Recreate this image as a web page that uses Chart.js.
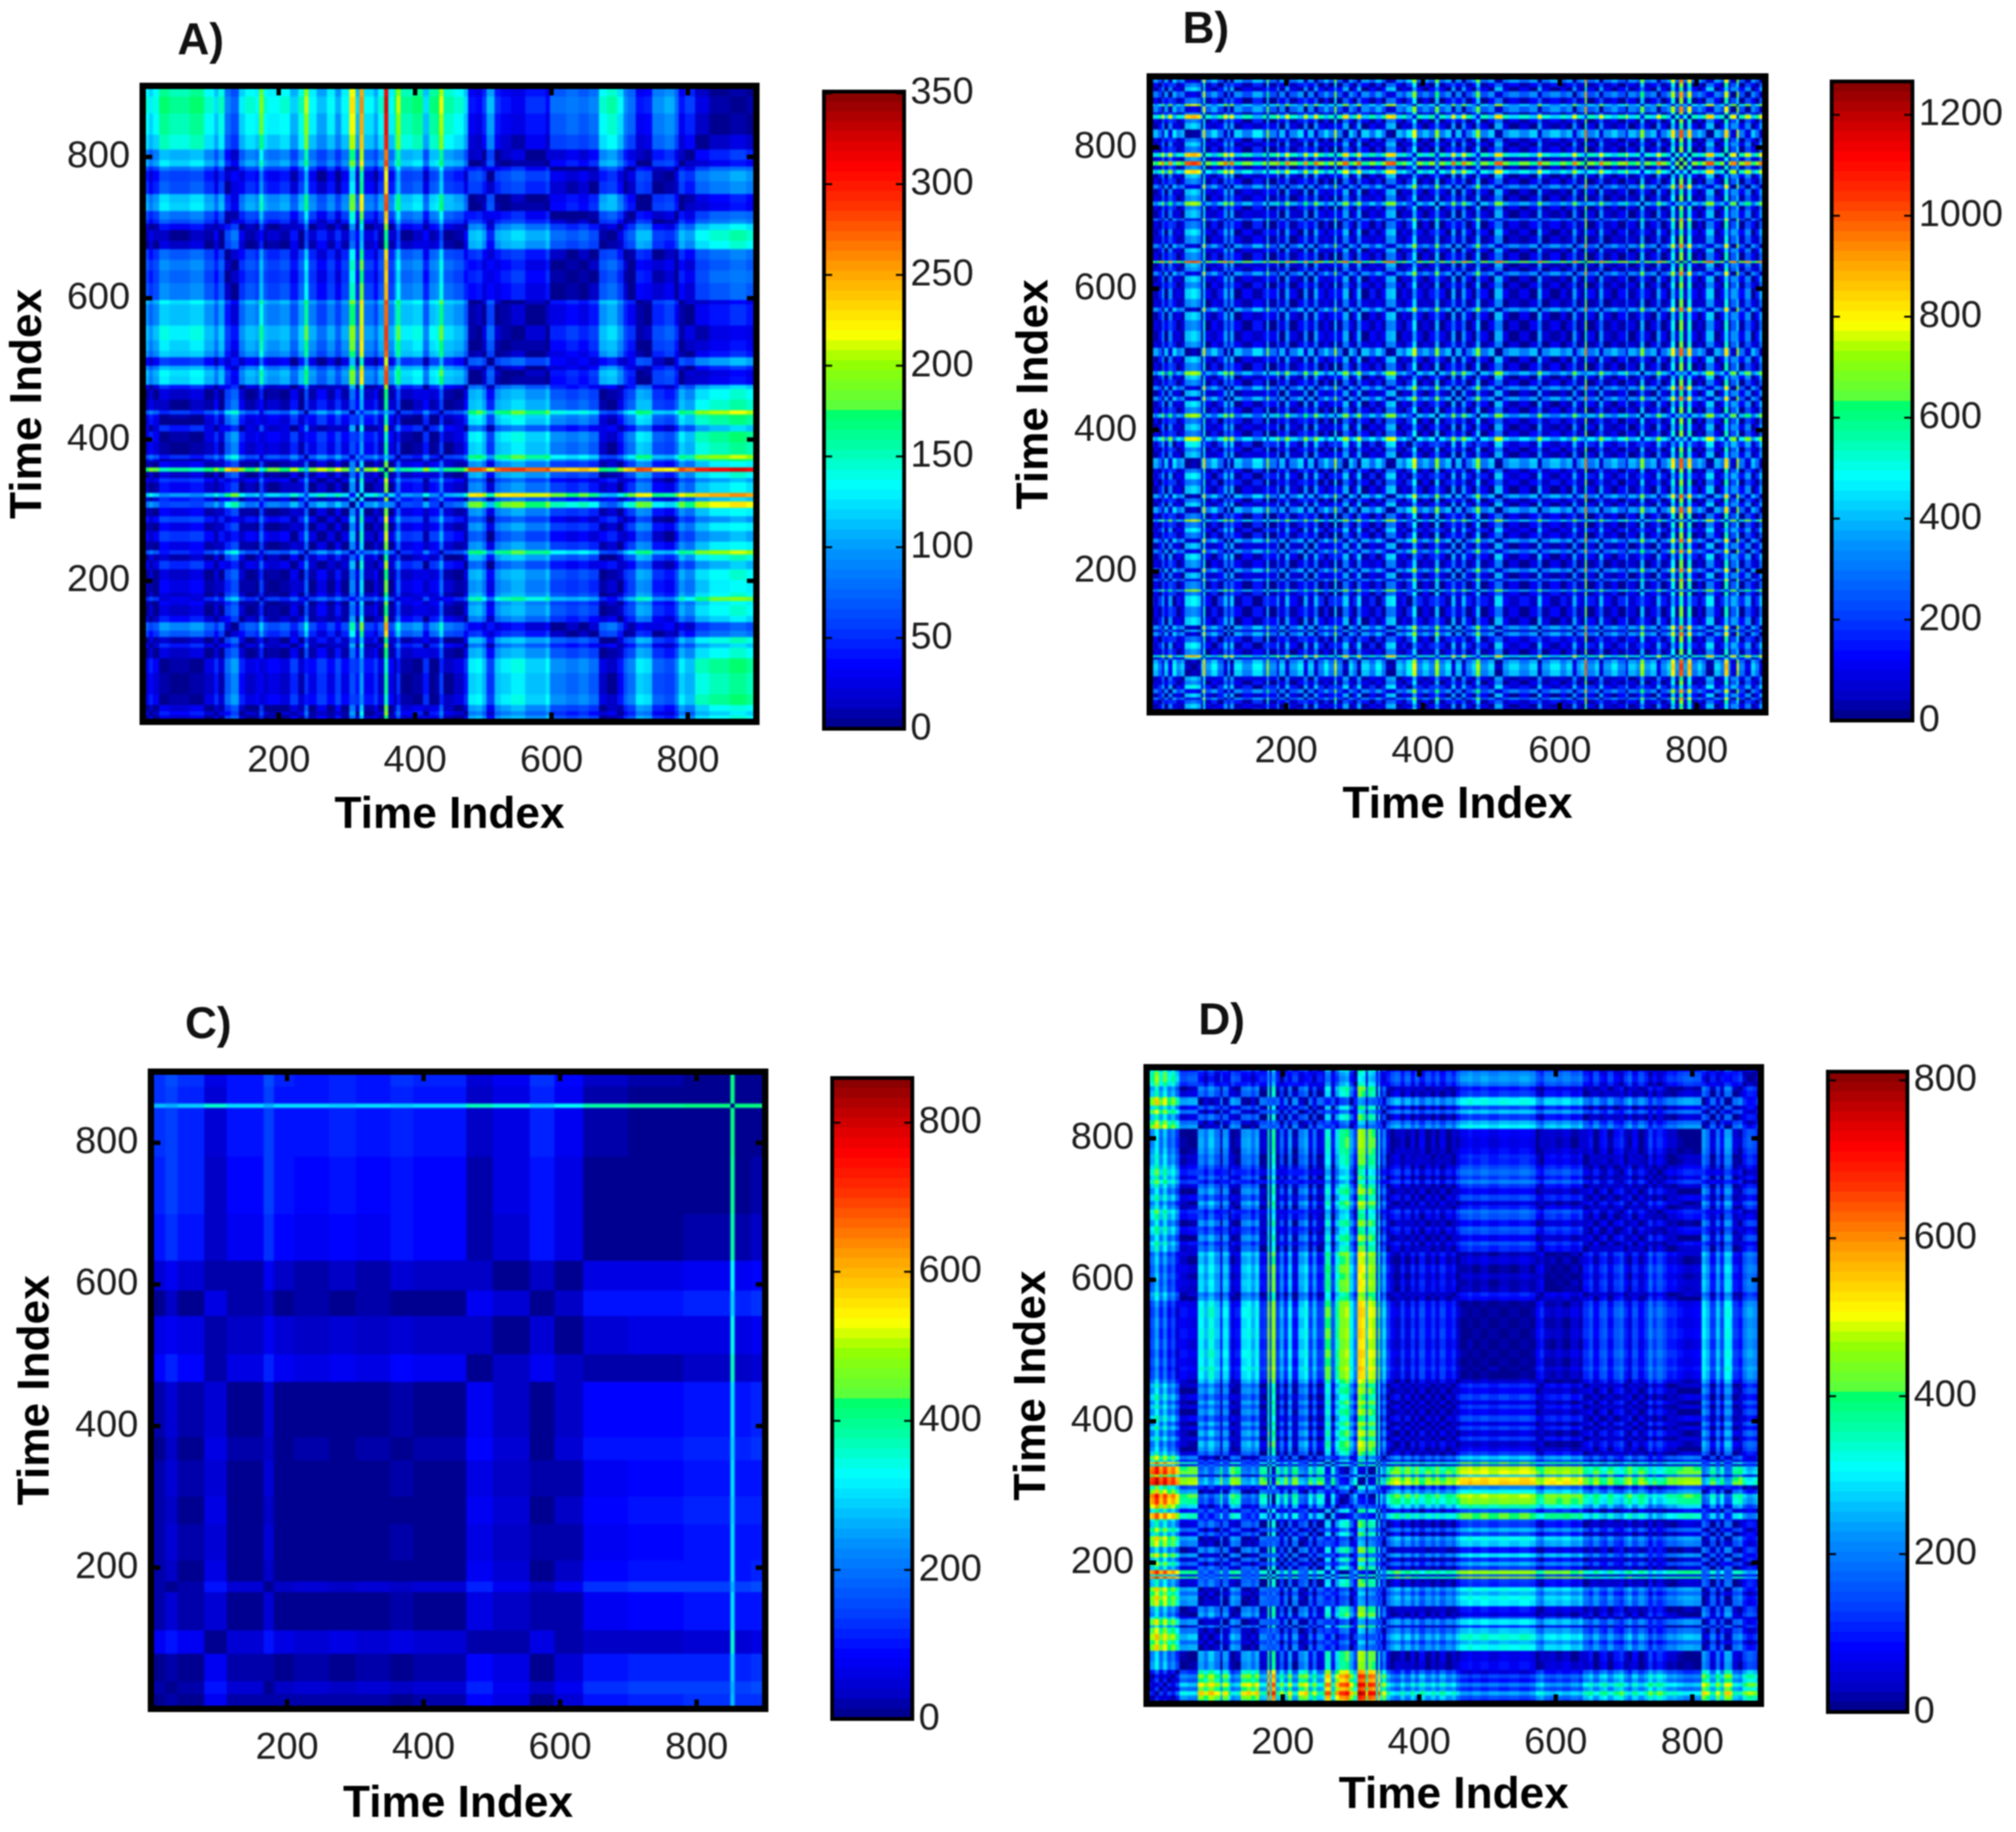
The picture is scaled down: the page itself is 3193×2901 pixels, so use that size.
<!DOCTYPE html>
<html>
<head>
<meta charset="utf-8">
<title>Time Index distance maps</title>
<script src="https://cdn.jsdelivr.net/npm/chart.js@4/dist/chart.umd.js"></script>
<style>
    html, body { margin: 0; background: #fff; }
    #page { position: relative; width: 3193px; height: 2901px; overflow: hidden; background: #fff; }
    canvas { position: absolute; filter: blur(1.2px); }
</style>
</head>
<body>
<div id="page"></div>
<script>
// Each panel is a distance map of one series, so only the series is typed in:
// [first time index of the band, level].
const bandsA = [[1,125],[10,105],[16,120],[25,150],[40,140],[70,150],[90,125],[105,100],[112,130],[120,70],[128,50],[140,105],[150,125],[165,115],[172,170],[178,125],[182,115],[200,125],[215,95],[228,130],[236,190],[242,115],[255,90],[270,115],[282,85],[292,115],[304,205],[311,100],[318,240],[324,110],[340,90],[346,125],[354,300],[361,115],[368,150],[372,190],[377,140],[395,150],[410,100],[420,145],[430,150],[436,195],[441,135],[455,125],[472,100],[478,20],[490,15],[498,35],[505,90],[515,30],[525,20],[540,10],[560,30],[590,15],[597,55],[620,65],[640,55],[655,70],[668,125],[680,135],[695,110],[705,75],[712,60],[722,20],[735,25],[748,75],[765,85],[780,60],[787,20],[795,35],[810,0],[830,-12],[860,-22],[885,-12]];
const bandsB = [[1,80],[6,-30],[12,100],[18,310],[22,-40],[28,290],[33,-90],[40,60],[46,-10],[52,370],[60,410],[70,350],[74,-30],[77,-470],[81,50],[90,-70],[100,100],[108,330],[113,-10],[118,340],[124,-50],[135,70],[150,-80],[165,90],[170,-330],[175,70],[185,300],[190,-20],[197,320],[203,50],[215,-60],[225,300],[232,-20],[240,330],[247,80],[255,-70],[262,80],[270,-380],[274,80],[283,350],[290,-40],[297,80],[303,360],[310,-40],[320,90],[330,-70],[340,80],[346,360],[353,380],[360,-20],[370,70],[376,-90],[384,-400],[389,80],[398,-30],[408,90],[418,-330],[424,70],[432,-50],[440,330],[446,-20],[455,320],[461,70],[470,-40],[476,-340],[482,70],[495,-40],[505,360],[515,50],[525,-30],[540,60],[555,-40],[566,340],[572,40],[585,-50],[600,60],[610,-30],[618,310],[624,50],[630,-20],[635,-600],[640,70],[650,-30],[658,320],[664,40],[675,-50],[685,80],[695,300],[700,-20],[712,70],[718,-330],[724,50],[733,-30],[742,310],[748,70],[757,-40],[762,-440],[768,50],[773,-620],[779,20],[786,-470],[792,80],[800,-30],[806,80],[814,380],[826,-30],[834,80],[840,-470],[845,60],[850,310],[858,-380],[862,80],[870,300],[878,-40],[886,90],[892,330],[897,-20]];
const bandsC = [[1,110],[20,130],[38,105],[78,35],[112,85],[165,130],[180,92],[210,85],[260,95],[300,85],[350,102],[385,88],[462,20],[502,50],[555,100],[590,60],[632,5],[700,-5],[780,-15],[848,390],[854,-15],[880,-22]];
const bandsD = [[1,100],[6,160],[12,250],[18,120],[24,210],[30,100],[36,150],[42,60],[48,-70],[60,-50],[72,-40],[76,-300],[84,-240],[90,-320],[98,-250],[108,-80],[112,-280],[120,-150],[124,-50],[130,-80],[139,-280],[146,-300],[152,-240],[158,-300],[165,-100],[172,-110],[177,-450],[181,-130],[184,-440],[188,-110],[196,-230],[202,-100],[207,-280],[213,-80],[222,-260],[232,-300],[238,-120],[244,-240],[250,-110],[258,-150],[262,-400],[270,-140],[276,-340],[282,-430],[290,-460],[297,-300],[304,-190],[309,-530],[316,-510],[320,-250],[325,-480],[331,-460],[335,-130],[339,-400],[342,-140],[345,-260],[351,-110],[358,-60],[362,-30],[372,-110],[378,-40],[386,-120],[392,-50],[400,-130],[408,-60],[416,-110],[424,-50],[430,-120],[438,-60],[446,-100],[452,-30],[458,10],[470,30],[478,5],[490,25],[500,0],[515,20],[530,5],[545,25],[560,5],[570,-60],[576,-90],[582,-20],[590,-10],[600,-30],[610,-5],[620,-40],[632,-10],[640,-100],[648,-140],[654,-60],[662,-130],[670,-150],[676,-70],[684,-140],[692,-170],[698,-90],[705,-40],[712,-130],[720,-60],[728,-110],[735,-190],[742,-120],[748,-170],[755,-130],[762,-90],[770,-100],[778,-70],[786,-50],[800,-60],[812,-290],[820,-240],[826,-110],[834,-250],[840,-130],[846,-300],[854,-280],[858,-110],[866,-80],[872,-180],[880,-220],[888,-200],[895,-130]];

const timeTicks = [200, 400, 600, 800];
const barTicksA = [0, 50, 100, 150, 200, 250, 300, 350];
const barTicksB = [0, 200, 400, 600, 800, 1000, 1200];
const barTicksC = [0, 200, 400, 600, 800];
const barTicksD = [0, 200, 400, 600, 800];
const maxA = 351;
const maxB = 1266;
const maxC = 860;
const maxD = 811;

// colormap (note the step just past the green)
const mapStops = [0, 0.04, 0.1, 0.16, 0.28, 0.38, 0.44, 0.5, 0.505, 0.575, 0.62, 0.72, 0.82, 0.88, 0.92, 1];
const mapRgb = [[0,0,130],[0,0,200],[0,0,255],[0,60,255],[0,150,255],[0,255,255],[0,255,170],[0,255,100],[90,255,60],[150,255,0],[255,255,0],[255,160,0],[255,50,0],[255,0,0],[220,0,0],[130,0,0]];
const MAP_LEVELS = 64;

const GRID_STEP = 3;
const TIME_MAX = 900;
const TICK_FONT = '"Liberation Sans", Arial, sans-serif';

Chart.defaults.animation = false;
Chart.defaults.font.family = TICK_FONT;

function mapColor(t) {
    let k = 0;
    while (k < mapStops.length - 2 && t > mapStops[k + 1]) k++;
    const f = Math.min(1, Math.max(0, (t - mapStops[k]) / (mapStops[k + 1] - mapStops[k])));
    return mapRgb[k].map((c, n) => Math.round(c + (mapRgb[k + 1][n] - c) * f));
}

const mapTable = [];
for (let k = 0; k < MAP_LEVELS; k++) mapTable.push(mapColor((k + 0.5) / MAP_LEVELS));

function levelAt(bands, t) {
    let level = bands[0][1];
    for (const band of bands) {
        if (band[0] > t) break;
        level = band[1];
    }
    return level;
}

function buildMapImage(bands, maxValue) {
    const size = Math.floor(TIME_MAX / GRID_STEP);
    const levels = [];
    for (let i = 0; i < size; i++) levels.push(levelAt(bands, (i + 0.5) * GRID_STEP));

    const off = document.createElement('canvas');
    off.width = size;
    off.height = size;
    const offCtx = off.getContext('2d');
    const img = offCtx.createImageData(size, size);
    for (let row = 0; row < size; row++) {
        for (let col = 0; col < size; col++) {
            const d = Math.abs(levels[col] - levels[size - 1 - row]);
            const k = Math.min(MAP_LEVELS - 1, Math.floor(d / maxValue * MAP_LEVELS));
            const p = (row * size + col) * 4;
            img.data[p] = mapTable[k][0];
            img.data[p + 1] = mapTable[k][1];
            img.data[p + 2] = mapTable[k][2];
            img.data[p + 3] = 255;
        }
    }
    offCtx.putImageData(img, 0, 0);
    return off;
}

function addCanvas(left, top, width, height) {
    const canvas = document.createElement('canvas');
    canvas.width = width;
    canvas.height = height;
    canvas.style.left = left + 'px';
    canvas.style.top = top + 'px';
    canvas.style.width = width + 'px';
    canvas.style.height = height + 'px';
    document.getElementById('page').appendChild(canvas);
    return canvas;
}

function drawMapPanel(p) {
    const TOP_PAD = 120;
    const RIGHT_PAD = 60;
    const axisW = p.left - p.yTitleX + 41;
    const axisH = p.xTitleY - p.bottom + 41;
    const canvasLeft = p.left - axisW;
    const canvasTop = p.top - TOP_PAD;
    const canvas = addCanvas(canvasLeft, canvasTop, axisW + (p.right - p.left) + RIGHT_PAD, TOP_PAD + (p.bottom - p.top) + axisH);
    const image = buildMapImage(p.bands, p.max);

    const mapPlugin = {
        id: 'distanceMap',
        beforeDatasetsDraw(chart) {
            const { x, y } = chart.scales;
            const x0 = x.getPixelForValue(0.5);
            const x1 = x.getPixelForValue(TIME_MAX + 0.5);
            const y0 = y.getPixelForValue(TIME_MAX + 0.5);
            const y1 = y.getPixelForValue(0.5);
            chart.ctx.imageSmoothingEnabled = true;
            chart.ctx.drawImage(image, x0, y0, x1 - x0, y1 - y0);
        },
        afterDraw(chart) {
            const ctx = chart.ctx;
            const { x, y } = chart.scales;
            const a = chart.chartArea;
            ctx.save();
            ctx.strokeStyle = '#000';
            ctx.lineWidth = 10;
            ctx.strokeRect(a.left, a.top, a.right - a.left, a.bottom - a.top);
            ctx.fillStyle = '#000';
            // MATLAB style ticks pointing inwards on all four sides
            timeTicks.forEach(v => {
                const px = x.getPixelForValue(v);
                const py = y.getPixelForValue(v);
                ctx.fillRect(px - 3.5, a.top, 7, 15);
                ctx.fillRect(px - 3.5, a.bottom - 15, 7, 15);
                ctx.fillRect(a.left, py - 3.5, 15, 7);
                ctx.fillRect(a.right - 15, py - 3.5, 15, 7);
            });
            ctx.font = 'bold 70px ' + TICK_FONT;
            ctx.fillStyle = '#111';
            ctx.textAlign = 'left';
            ctx.textBaseline = 'middle';
            ctx.fillText(p.letter, p.letterX - canvasLeft, p.letterY - canvasTop);
            ctx.restore();
        }
    };

    const axisBase = {
        type: 'linear',
        min: 0.5,
        max: TIME_MAX + 0.5,
        grid: { display: false, drawTicks: false },
        border: { display: false },
        afterBuildTicks: scale => { scale.ticks = timeTicks.map(v => ({ value: v })); }
    };

    return new Chart(canvas, {
        type: 'scatter',
        data: { datasets: [{ label: p.letter, data: [], pointRadius: 0 }] },
        options: {
            responsive: false,
            devicePixelRatio: 1,
            layout: { padding: { top: TOP_PAD, right: RIGHT_PAD, left: 0, bottom: 0 } },
            plugins: { legend: { display: false }, tooltip: { enabled: false } },
            scales: {
                x: {
                    ...axisBase,
                    position: 'bottom',
                    afterFit: scale => { scale.height = axisH; },
                    ticks: { font: { size: 60 }, color: '#1c1c1c', padding: 26, autoSkip: false, maxRotation: 0, callback: v => String(v) },
                    title: { display: true, text: 'Time Index', color: '#000', font: { size: 70, weight: 'bold' }, padding: 0 }
                },
                y: {
                    ...axisBase,
                    position: 'left',
                    afterFit: scale => { scale.width = axisW; },
                    ticks: { font: { size: 60 }, color: '#1c1c1c', padding: 20, autoSkip: false, callback: v => String(v) },
                    title: { display: true, text: 'Time Index', color: '#000', font: { size: 70, weight: 'bold' }, padding: 0 }
                }
            }
        },
        plugins: [mapPlugin]
    });
}

function drawColorBar(b) {
    const PAD_V = 50;
    const AXIS_W = 170;
    const canvas = addCanvas(b.left - 10, b.top - PAD_V, (b.right - b.left) + AXIS_W + 10, (b.bottom - b.top) + PAD_V * 2);

    const barPlugin = {
        id: 'barFrame',
        afterDraw(chart) {
            const ctx = chart.ctx;
            const a = chart.chartArea;
            ctx.save();
            ctx.strokeStyle = '#000';
            ctx.lineWidth = 6;
            ctx.strokeRect(a.left, a.top, a.right - a.left, a.bottom - a.top);
            ctx.fillStyle = '#000';
            b.ticks.forEach(v => {
                const py = chart.scales.y.getPixelForValue(v);
                ctx.fillRect(a.left, py - 1.5, 13, 3);
                ctx.fillRect(a.right - 13, py - 1.5, 13, 3);
            });
            ctx.restore();
        }
    };

    const datasets = mapTable.map((c, k) => ({
        data: [b.max * (k + 1) / MAP_LEVELS],
        backgroundColor: 'rgb(' + c.join(',') + ')',
        borderWidth: 0,
        grouped: false,
        barPercentage: 1,
        categoryPercentage: 1
    }));

    return new Chart(canvas, {
        type: 'bar',
        data: { labels: [''], datasets },
        options: {
            responsive: false,
            devicePixelRatio: 1,
            layout: { padding: { top: PAD_V, bottom: PAD_V, left: 10, right: 0 } },
            plugins: { legend: { display: false }, tooltip: { enabled: false } },
            scales: {
                x: { display: false },
                y: {
                    type: 'linear',
                    position: 'right',
                    min: 0,
                    max: b.max,
                    grid: { display: false, drawTicks: false },
                    border: { display: false },
                    afterBuildTicks: scale => { scale.ticks = b.ticks.map(v => ({ value: v })); },
                    afterFit: scale => { scale.width = AXIS_W; },
                    ticks: { font: { size: 60 }, color: '#1c1c1c', padding: 10, autoSkip: false, callback: v => String(v) }
                }
            }
        },
        plugins: [barPlugin]
    });
}

drawMapPanel({ letter: 'A)', bands: bandsA, max: maxA, left: 226, right: 1198, top: 136, bottom: 1143, yTitleX: 45, xTitleY: 1293, letterX: 281, letterY: 67 });
drawMapPanel({ letter: 'B)', bands: bandsB, max: maxB, left: 1821, right: 2796, top: 121, bottom: 1128, yTitleX: 1639, xTitleY: 1277, letterX: 1873, letterY: 49 });
drawMapPanel({ letter: 'C)', bands: bandsC, max: maxC, left: 239, right: 1212, top: 1697, bottom: 2706, yTitleX: 57, xTitleY: 2859, letterX: 293, letterY: 1625 });
drawMapPanel({ letter: 'D)', bands: bandsD, max: maxD, left: 1816, right: 2789, top: 1690, bottom: 2698, yTitleX: 1635, xTitleY: 2845, letterX: 1898, letterY: 1619 });

drawColorBar({ ticks: barTicksA, max: maxA, left: 1305, right: 1432, top: 145, bottom: 1154 });
drawColorBar({ ticks: barTicksB, max: maxB, left: 2901, right: 3029, top: 129, bottom: 1141 });
drawColorBar({ ticks: barTicksC, max: maxC, left: 1318, right: 1445, top: 1707, bottom: 2722 });
drawColorBar({ ticks: barTicksD, max: maxD, left: 2895, right: 3021, top: 1697, bottom: 2711 });
</script>
</body>
</html>
